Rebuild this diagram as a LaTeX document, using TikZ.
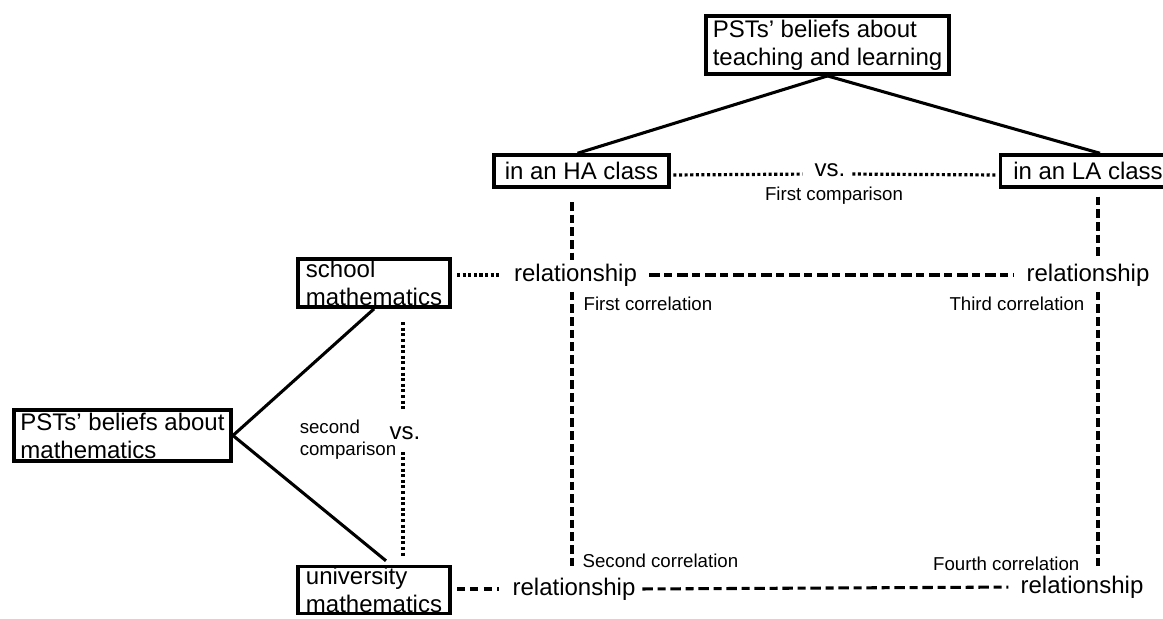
\documentclass[tikz,border=0pt]{standalone}
\usepackage{fontspec}
\setmainfont{Liberation Sans}
\begin{document}
\begin{tikzpicture}[x=0.75pt,y=-0.75pt,
  bigfont/.style={font=\fontsize{18}{21}\selectfont},
  smallfont/.style={font=\fontsize{14}{16.5}\selectfont},
  box/.style={draw,line width=2.6pt,bigfont,align=left,inner xsep=5pt,inner ysep=2pt},
  lbl/.style={bigfont,inner sep=1pt},
  slbl/.style={smallfont,inner sep=1pt,align=left},
  solidline/.style={line width=2.3pt},
  dotline/.style={line width=2.4pt,dash pattern=on 2.3pt off 1.9pt},
  vdashline/.style={line width=2.3pt,dash pattern=on 6.5pt off 3pt},
  mixline/.style={line width=2.3pt,dash pattern=on 8pt off 3.5pt on 6pt off 3.5pt},
  sdashline/.style={line width=2.3pt,dash pattern=on 6pt off 4pt}
]
\useasboundingbox (0,0) rectangle (1163,618);
\clip (0,0) rectangle (1163,618);

% boxes
\node[box,inner ysep=3pt] (top) at (827.5,45) {PSTs' beliefs about\\teaching and learning};
\node[box,minimum width=131.25pt,minimum height=24pt,align=center] (HA) at (581.5,171) {in an HA class};
\node[box,minimum width=131.25pt,minimum height=24pt,align=center] (LA) at (1088,171) {in an LA class};
\node[box,inner xsep=6pt,inner ysep=1pt] (school) at (374,283) {school\\mathematics};
\node[box,inner xsep=6pt,inner ysep=0.5pt] (univ) at (374,590) {university\\mathematics};
\node[box,inner xsep=5pt,inner ysep=2pt] (left) at (122.5,435.5) {PSTs' beliefs about\\mathematics};

% labels
\node[lbl] (vs1) at (830,170) {vs.};
\node[slbl] (fc) at (834,196) {First comparison};
\node[lbl] (rel1) at (575.5,275) {relationship};
\node[lbl] (rel2) at (1088,275) {relationship};
\node[lbl] (rel3) at (574,589) {relationship};
\node[lbl] (rel4) at (1082,587) {relationship};
\node[lbl] (vs2) at (405,433) {vs.};
\node[slbl] (sc) at (348,440) {second\\comparison};
\node[slbl,anchor=west] (c1) at (582,304) {First correlation};
\node[slbl,anchor=east] (c3) at (1086,304) {Third correlation};
\node[slbl,anchor=west] (c2) at (581,561) {Second correlation};
\node[slbl,anchor=east] (c4) at (1081,564) {Fourth correlation};

% line x positions
\coordinate (lx) at (572,0);
\coordinate (rx) at (1098,0);
\coordinate (mx) at (403,0);

% solid connectors
\draw[solidline] (top.south) -- ([xshift=-3pt]HA.north);
\draw[solidline] (top.south) -- ([xshift=9pt]LA.north);
\draw[solidline] (left.east) -- (school.south);
\draw[solidline] (left.east) -- ([xshift=9pt,yshift=3pt]univ.north);

% first comparison
\draw[dotline,shorten <=2pt,shorten >=8pt] ([yshift=-3pt]HA.east) -- ([yshift=-3pt]vs1.west);
\draw[dotline,shorten <=4pt,shorten >=2pt] ([yshift=-3pt]vs1.east) -- ([yshift=-3pt]LA.west);

% second comparison
\draw[dotline,shorten <=10pt,shorten >=12pt] (school.south -| mx) -- (vs2.north -| mx);
\draw[dotline,shorten <=8pt,shorten >=6pt] (vs2.south -| mx) -- (univ.north -| mx);

% correlations
\draw[vdashline,shorten <=10pt,shorten >=2pt] (HA.south -| lx) -- (rel1.north -| lx);
\draw[vdashline,shorten <=3pt,shorten >=6pt] (rel1.south -| lx) -- (rel3.north -| lx);
\draw[vdashline,shorten <=6pt,shorten >=2pt] (LA.south -| rx) -- (rel2.north -| rx);
\draw[vdashline,shorten <=3pt,shorten >=3pt] (rel2.south -| rx) -- (rel4.north -| rx);

% relationships
\draw[dotline,shorten <=4pt,shorten >=9pt] (school.east |- rel1) -- (rel1.west);
\draw[mixline,shorten <=8pt,shorten >=8pt] (rel1.east) -- (rel2.west);
\draw[sdashline,shorten <=4pt,shorten >=9pt] (univ.east |- rel3) -- (rel3.west);
\draw[mixline,shorten <=4pt,shorten >=8pt] (rel3.east) -- (rel4.west);
\end{tikzpicture}
\end{document}
